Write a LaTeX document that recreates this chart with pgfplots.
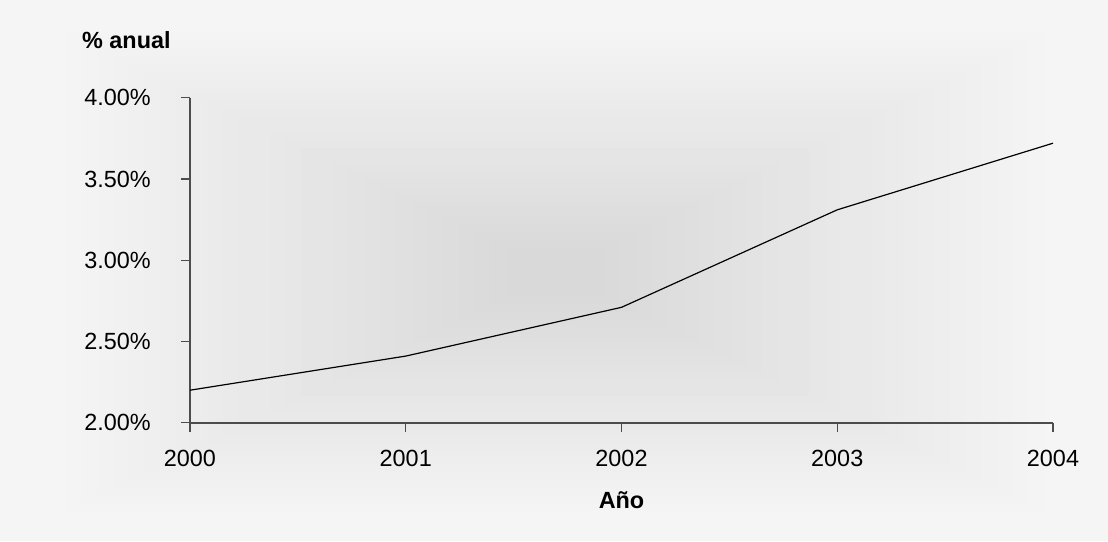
\documentclass[border=0pt]{standalone}
\usepackage{fontspec}
\setmainfont{Liberation Sans}
\usepackage{pgfplots}
\pgfplotsset{compat=1.18}

\definecolor{bgpage}{gray}{0.961}
\definecolor{axisgray}{gray}{0.30}

\begin{document}
\fontsize{11.7}{14}\selectfont
\begin{tikzpicture}
    % page and the shading from the centre (1px = 0.5pt)
    \path[use as bounding box, fill=bgpage] (-95pt,-59.15pt) rectangle (459pt,211.35pt);
    \foreach \i in {0,...,29} {
        \pgfmathsetmacro{\hw}{252.5-\i*227.5/29}
        \pgfmathsetmacro{\hh}{0.488*\hw}
        \pgfmathsetmacro{\p}{3.9+\i*11/29}
        \fill[black!\p] (182.5pt-\hw pt,75.35pt-\hh pt) rectangle (182.5pt+\hw pt,75.35pt+\hh pt);
    }

    \begin{axis}[
        at={(0,0)}, anchor=south west,
        scale only axis,
        width=431.5pt, height=162.5pt,
        xmin=2000, xmax=2004,
        ymin=2, ymax=4,
        xtick={2000,2001,2002,2003,2004},
        ytick={2,2.5,3,3.5,4},
        axis x line*=bottom,
        axis y line*=left,
        x axis line style={axisgray, line width=0.8pt, -},
        y axis line style={axisgray, line width=0.6pt, -},
        tick style={axisgray, line width=0.6pt},
        tick align=outside,
        major tick length=4.5pt,
        /pgf/number format/assume math mode=true,
        xticklabel style={/pgf/number format/1000 sep={}, yshift=-5pt},
        yticklabel={\pgfmathprintnumber[fixed,fixed zerofill,precision=2]{\tick}\%},
        yticklabel style={xshift=-11pt},
        xlabel={Año},
        xlabel style={font=\bfseries, at={(axis description cs:0.5,0)}, anchor=base, yshift=-42.65pt},
        ylabel={\% anual},
        ylabel style={font=\bfseries, rotate=-90, at={(axis description cs:0,1)}, anchor=base west, xshift=-58pt, yshift=24.35pt},
        clip=false,
    ]

    \addplot[
        color=black,
        line width=0.6pt,
        mark=none,
        ]
        coordinates {
            (2000,2.20)(2001,2.41)(2002,2.71)(2003,3.31)(2004,3.72)
        };

    \end{axis}
\end{tikzpicture}
\end{document}
